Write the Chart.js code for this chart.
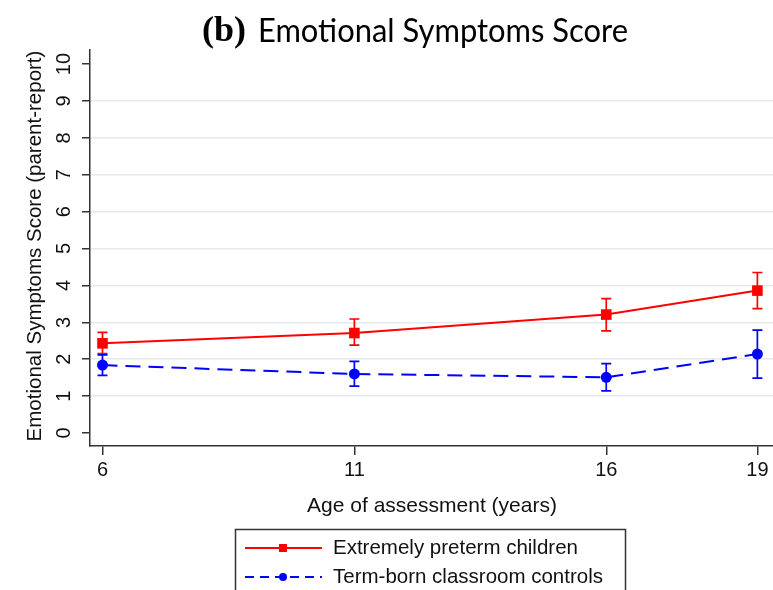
<!DOCTYPE html>
<html lang="en">
<head>
<meta charset="UTF-8">
<title>Emotional Symptoms Score</title>
<script src="https://cdn.jsdelivr.net/npm/chart.js"></script>
<style>
  html, body { margin: 0; padding: 0; background: #fff; overflow: hidden; }
  #wrap { width: 773px; height: 590px; }
</style>
</head>
<body>
<div id="wrap"><canvas id="chart"></canvas></div>
<script>
// values
const ages = [6, 11, 16, 19];
const scoreTicks = [0, 1, 2, 3, 4, 5, 6, 7, 8, 9, 10];

const pretermMean  = [2.43, 2.71, 3.21, 3.86];
const pretermLower = [2.15, 2.38, 2.77, 3.37];
const pretermUpper = [2.73, 3.09, 3.64, 4.35];

const controlMean  = [1.84, 1.60, 1.51, 2.14];
const controlLower = [1.56, 1.27, 1.14, 1.49];
const controlUpper = [2.12, 1.94, 1.88, 2.79];

const titlePrefix = '(b)';
const titleText = 'Emotional Symptoms Score';
const yTitle = 'Emotional Symptoms Score (parent-report)';
const xTitle = 'Age of assessment (years)';
const seriesNames = ['Extremely preterm children', 'Term-born classroom controls'];

const SANS = '"Liberation Sans", Arial, sans-serif';
const RED = 'rgb(255, 0, 0)';
const BLUE = 'rgb(0, 0, 255)';

// vertical error bars, drawn under the markers
const errorBars = {
    id: 'errorBars',
    beforeDatasetsDraw(chart) {
        const ctx = chart.ctx;
        const xs = chart.scales.x, ys = chart.scales.y;
        chart.data.datasets.forEach(ds => {
            ctx.save();
            ctx.strokeStyle = ds.borderColor;
            ctx.lineWidth = 1.7;
            ages.forEach((a, i) => {
                const x = xs.getPixelForValue(a);
                const lo = ys.getPixelForValue(ds.errLow[i]);
                const hi = ys.getPixelForValue(ds.errHigh[i]);
                ctx.beginPath();
                ctx.moveTo(x, lo); ctx.lineTo(x, hi);
                ctx.moveTo(x - 5, lo); ctx.lineTo(x + 5, lo);
                ctx.moveTo(x - 5, hi); ctx.lineTo(x + 5, hi);
                ctx.stroke();
            });
            ctx.restore();
        });
    }
};

// tick labels, axis titles, title and the boxed legend
const decorations = {
    id: 'decorations',
    afterDraw(chart) {
        const ctx = chart.ctx;
        const xs = chart.scales.x, ys = chart.scales.y;
        ctx.save();
        ctx.fillStyle = '#111';
        ctx.font = '20px ' + SANS;
        ctx.textAlign = 'center';
        ctx.textBaseline = 'middle';

        // x tick labels
        ages.forEach(a => ctx.fillText(String(a), xs.getPixelForValue(a), 470));

        // y tick labels (rotated like the original)
        scoreTicks.forEach(v => {
            ctx.save();
            ctx.translate(63, ys.getPixelForValue(v));
            ctx.rotate(-Math.PI / 2);
            ctx.fillText(String(v), 0, 1);
            ctx.restore();
        });

        // y title
        ctx.save();
        ctx.font = '20.5px ' + SANS;
        ctx.translate(35, 246);
        ctx.rotate(-Math.PI / 2);
        ctx.fillText(yTitle, 0, 0);
        ctx.restore();

        // x title
        ctx.font = '21px ' + SANS;
        ctx.fillText(xTitle, 432, 506);

        // main title
        ctx.textAlign = 'left';
        ctx.textBaseline = 'alphabetic';
        ctx.fillStyle = '#000';
        ctx.font = 'bold 36px "Liberation Serif", serif';
        ctx.fillText(titlePrefix, 202, 41);
        ctx.font = '32px Lato, sans-serif';
        const w = ctx.measureText(titleText).width;
        ctx.save();
        ctx.translate(258, 42);
        ctx.scale(370 / w, 1);
        ctx.fillText(titleText, 0, 0);
        ctx.restore();

        // legend box
        ctx.strokeStyle = '#333';
        ctx.lineWidth = 1.5;
        ctx.strokeRect(235.5, 529.5, 390, 80);
        const rows = [548, 577];
        chart.data.datasets.forEach((ds, i) => {
            const y = rows[i];
            ctx.save();
            ctx.strokeStyle = ds.borderColor;
            ctx.fillStyle = ds.borderColor;
            ctx.lineWidth = 2;
            ctx.setLineDash(ds.borderDash ? [9, 6] : []);
            ctx.beginPath();
            ctx.moveTo(245, y); ctx.lineTo(322, y);
            ctx.stroke();
            ctx.setLineDash([]);
            if (ds.pointStyle === 'rect') {
                ctx.fillRect(279, y - 4, 8, 8);
            } else {
                ctx.beginPath();
                ctx.arc(283, y, 4, 0, Math.PI * 2);
                ctx.fill();
            }
            ctx.restore();
            ctx.font = '20.5px ' + SANS;
            ctx.fillStyle = '#111';
            ctx.textBaseline = 'middle';
            ctx.fillText(ds.label, 333, y);
        });
        ctx.restore();
    }
};

const ctx = document.getElementById('chart').getContext('2d');
new Chart(ctx, {
    type: 'line',
    data: {
        datasets: [{
            label: seriesNames[0],
            data: ages.map((a, i) => ({ x: a, y: pretermMean[i] })),
            errLow: pretermLower,
            errHigh: pretermUpper,
            borderColor: RED,
            backgroundColor: RED,
            borderWidth: 2,
            pointStyle: 'rect',
            pointRadius: 7.5,
            pointBorderWidth: 0,
            clip: false
        }, {
            label: seriesNames[1],
            data: ages.map((a, i) => ({ x: a, y: controlMean[i] })),
            errLow: controlLower,
            errHigh: controlUpper,
            borderColor: BLUE,
            backgroundColor: BLUE,
            borderWidth: 2,
            borderDash: [15, 8],
            pointStyle: 'circle',
            pointRadius: 5.5,
            pointBorderWidth: 0,
            clip: false
        }]
    },
    options: {
        responsive: true,
        maintainAspectRatio: false,
        animation: false,
        devicePixelRatio: 1,
        layout: { autoPadding: false, padding: { top: 50, left: 0, right: 0, bottom: 0 } },
        plugins: {
            legend: { display: false },
            tooltip: { enabled: false }
        },
        scales: {
            x: {
                type: 'linear',
                min: 5.752,
                max: 19.31,
                afterBuildTicks: s => { s.ticks = ages.map(v => ({ value: v })); },
                afterFit: s => { s.height = 144; },
                grid: { drawOnChartArea: false, drawTicks: true, tickLength: 9, color: '#333', lineWidth: 1.5 },
                border: { display: true, color: '#333', width: 1.5 },
                ticks: { display: false }
            },
            y: {
                min: -0.352,
                max: 10.38,
                afterBuildTicks: s => { s.ticks = scoreTicks.map(v => ({ value: v })); },
                afterFit: s => { s.width = 90; },
                grid: {
                    color: c => (c.tick && (c.tick.value === 0 || c.tick.value === 10)) ? 'rgba(0,0,0,0)' : '#e2eaed',
                    tickColor: '#333',
                    lineWidth: 1.5,
                    tickLength: 8
                },
                border: { display: true, color: '#333', width: 1.5 },
                ticks: { display: false }
            }
        }
    },
    plugins: [errorBars, decorations]
});
</script>
</body>
</html>
